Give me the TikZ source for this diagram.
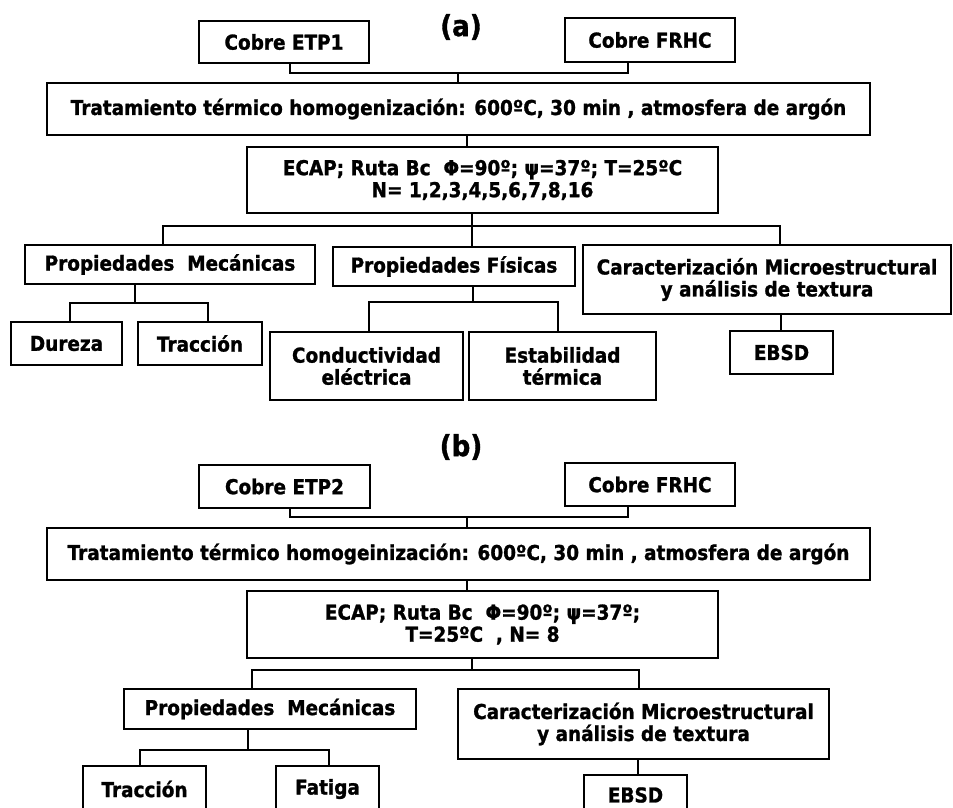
\documentclass[tikz,border=0pt]{standalone}
\usepackage{fontspec}
\setmainfont{DejaVu Sans}[FakeStretch=0.9,BoldFeatures={FakeBold=1.2}]
\begin{document}
\begin{tikzpicture}[x=1pt,y=-1pt,
  box/.style={draw=black,line width=2.8pt,inner sep=0pt,align=center,
    font=\fontsize{20.5}{22}\selectfont\bfseries},
  lbl/.style={inner sep=0pt,font=\fontsize{29}{32}\selectfont\bfseries},
  conn/.style={draw=black,line width=2.6pt}]
\useasboundingbox (0,0) rectangle (953,808);
% ---------- (a) ----------
\node[lbl] (la) at (461,27) {(a)};
\node[box,minimum width=170,minimum height=42] (etp1) at (284,42) {Cobre ETP1};
\node[box,minimum width=170,minimum height=44] (frhcA) at (650,40) {Cobre FRHC};
\node[box,minimum width=823,minimum height=52] (tratA) at (458.5,109) {Tratamiento térmico homogenización: 600ºC, 30 min , atmosfera de argón};
\node[box,minimum width=471,minimum height=66] (ecapA) at (482.5,180) {ECAP; Ruta Bc\ \ Φ=90º; ψ=37º; T=25ºC\\N= 1,2,3,4,5,6,7,8,16};
\node[box,minimum width=290,minimum height=39] (pmA) at (170,264.5) {Propiedades\ \ Mecánicas};
\node[box,minimum width=242,minimum height=39] (pfA) at (454,266.5) {Propiedades Físicas};
\node[box,minimum width=368,minimum height=69] (caA) at (767,279.5) {Caracterización Microestructural\\y análisis de textura};
\node[box,minimum width=111,minimum height=43] (dur) at (66.5,343.5) {Dureza};
\node[box,minimum width=124,minimum height=43] (traA) at (200,343.5) {Tracción};
\node[box,minimum width=193,minimum height=68] (cond) at (366.5,366) {Conductividad\\eléctrica};
\node[box,minimum width=187,minimum height=68] (est) at (562.5,366) {Estabilidad\\térmica};
\node[box,minimum width=103,minimum height=43] (ebsdA) at (781.5,352.5) {EBSD};
% connectors (a)
\coordinate (ja1) at (458,73);
\draw[conn] (etp1.south -| 290,0) |- (ja1) -| (frhcA.south -| 628,0);
\draw[conn] (ja1) -- (tratA.north -| ja1);
\draw[conn] (tratA.south -| 467,0) -- (ecapA.north -| 467,0);
\coordinate (ja2) at (472,226);
\draw[conn] (ecapA.south -| ja2) -- (ja2);
\draw[conn] (pmA.north -| 163,0) |- (ja2) -| (caA.north -| 780,0);
\draw[conn] (ja2) -- (pfA.north -| ja2);
\coordinate (ja3) at (135,303);
\draw[conn] (pmA.south -| ja3) -- (ja3);
\draw[conn] (dur.north -| 70,0) |- (ja3) -| (traA.north -| 208,0);
\coordinate (ja4) at (473,302);
\draw[conn] (pfA.south -| ja4) -- (ja4);
\draw[conn] (cond.north -| 369,0) |- (ja4) -| (est.north -| 558,0);
\draw[conn] (caA.south -| 781,0) -- (ebsdA.north -| 781,0);
% ---------- (b) ----------
\node[lbl] (lb) at (461,447) {(b)};
\node[box,minimum width=171,minimum height=43] (etp2) at (284.5,486.5) {Cobre ETP2};
\node[box,minimum width=170,minimum height=43] (frhcB) at (650,484.5) {Cobre FRHC};
\node[box,minimum width=823,minimum height=52] (tratB) at (458.5,554) {Tratamiento térmico homogeinización: 600ºC, 30 min , atmosfera de argón};
\node[box,minimum width=471,minimum height=67] (ecapB) at (482.5,624.5) {ECAP; Ruta Bc\ \ Φ=90º; ψ=37º;\\T=25ºC\ \ , N= 8};
\node[box,minimum width=292,minimum height=40] (pmB) at (270,709) {Propiedades\ \ Mecánicas};
\node[box,minimum width=371,minimum height=70] (caB) at (643.5,724) {Caracterización Microestructural\\y análisis de textura};
\node[box,minimum width=123,minimum height=46] (traB) at (144.5,789) {Tracción};
\node[box,minimum width=103,minimum height=46] (fat) at (327.5,789) {Fatiga};
\node[box,minimum width=103,minimum height=40] (ebsdB) at (635.5,795) {EBSD};
% connectors (b)
\coordinate (jb1) at (467,517);
\draw[conn] (etp2.south -| 290,0) |- (jb1) -| (frhcB.south -| 628,0);
\draw[conn] (jb1) -- (tratB.north -| jb1);
\draw[conn] (tratB.south -| 467,0) -- (ecapB.north -| 467,0);
\coordinate (jb2) at (472,670);
\draw[conn] (ecapB.south -| jb2) -- (jb2);
\draw[conn] (pmB.north -| 252,0) |- (jb2) -| (caB.north -| 639,0);
\coordinate (jb3) at (248,750);
\draw[conn] (pmB.south -| jb3) -- (jb3);
\draw[conn] (traB.north -| 140,0) |- (jb3) -| (fat.north -| 329,0);
\draw[conn] (caB.south -| 638,0) -- (ebsdB.north -| 638,0);
\end{tikzpicture}
\end{document}
